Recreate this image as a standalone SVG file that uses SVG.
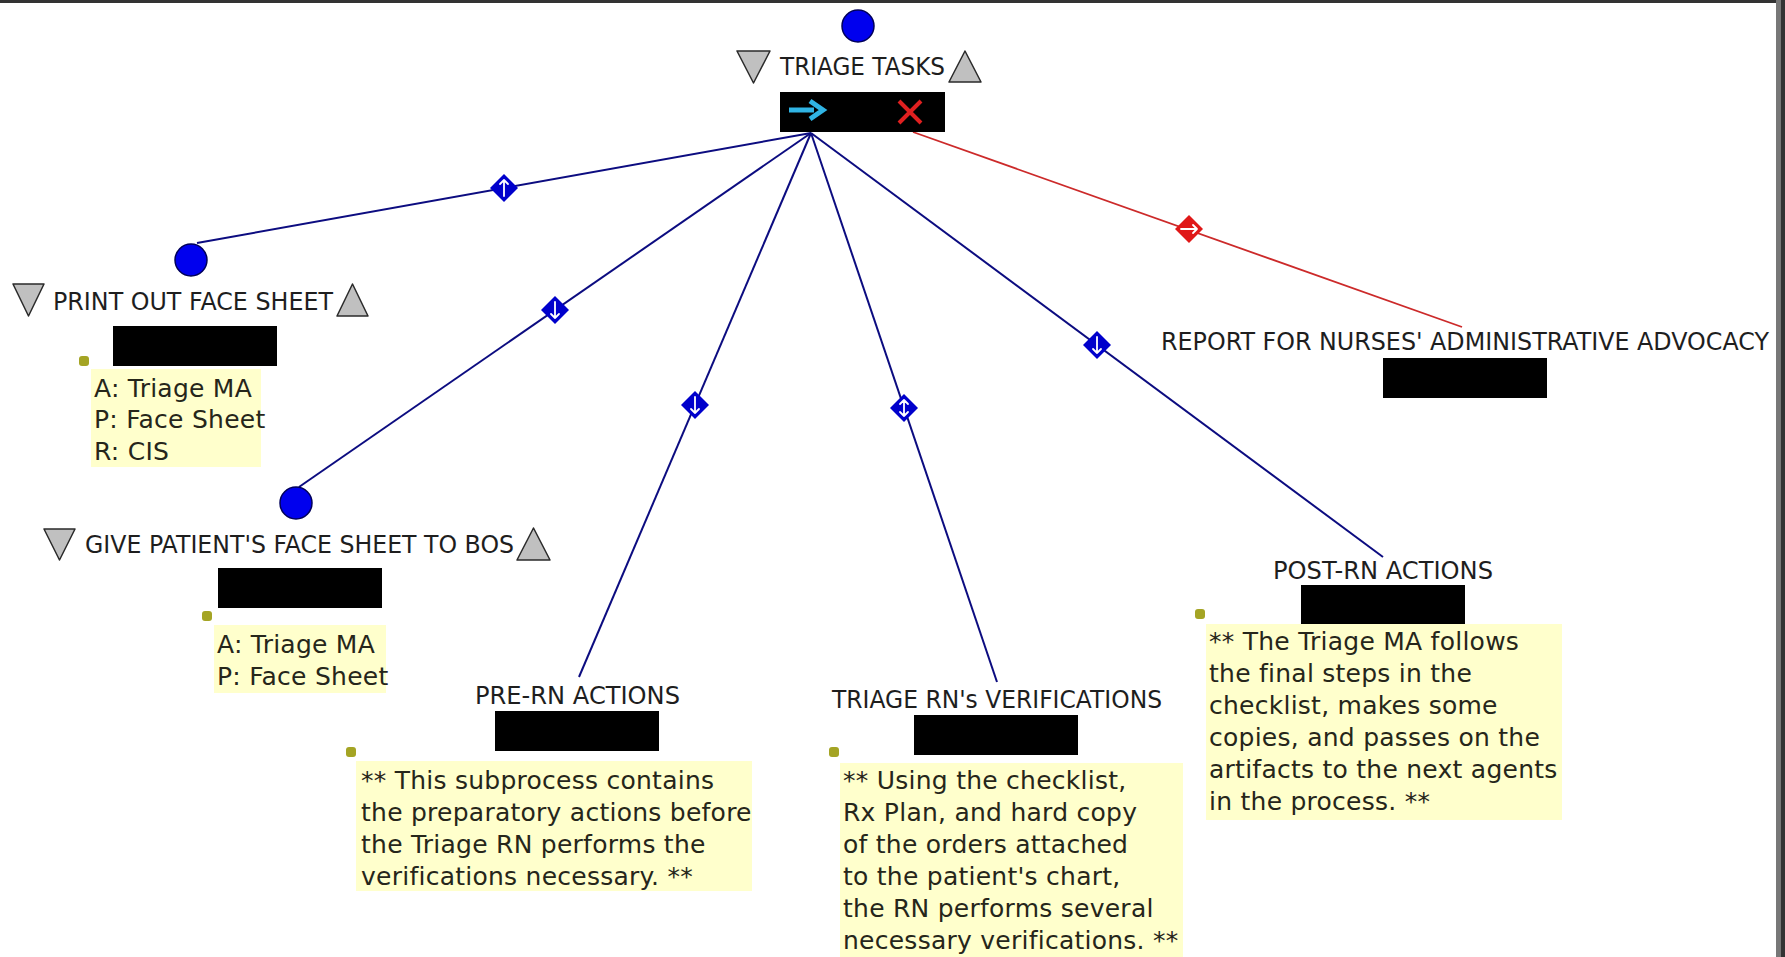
<svg xmlns="http://www.w3.org/2000/svg" width="1785" height="957" viewBox="0 0 1785 957">
  <style>
    .label { font-family: "DejaVu Sans", "Liberation Sans", sans-serif; font-size: 24px; fill: #1e1e1e; }
    .note { font-family: "DejaVu Sans", "Liberation Sans", sans-serif; font-size: 25px; fill: #26261a; letter-spacing: 0.25px; }
    .notebg { fill: #ffffcc; }
    .dot { fill: #a4a424; }
    .ball { fill: #0000ee; stroke: #00005a; stroke-width: 1.5; }
    .tri { fill: #c0c0c0; stroke: #2a2a2a; stroke-width: 1.5; stroke-linejoin: round; }
    .box { fill: #000000; }
    .link { fill: none; stroke: #0c0c80; stroke-width: 2; }
    .link-red { fill: none; stroke: #cc2a2a; stroke-width: 1.8; }
    .dia { fill: #0000cc; }
    .dia-red { fill: #e01818; }
    .glyph { fill: none; stroke: #ffffff; stroke-width: 1.8; stroke-linecap: round; stroke-linejoin: round; }
  </style>
  <defs>
    <!-- diamond decorations placed on the links -->
    <g id="dia-up">
      <path class="dia" d="M0,-14 L14,0 L0,14 L-14,0 Z"/>
      <path class="glyph" d="M0,8 V-8 M-4,-4 L0,-8 L4,-4"/>
    </g>
    <g id="dia-down">
      <path class="dia" d="M0,-14 L14,0 L0,14 L-14,0 Z"/>
      <path class="glyph" d="M0,-8 V8 M-4,4 L0,8 L4,4"/>
    </g>
    <g id="dia-both">
      <path class="dia" d="M0,-14 L14,0 L0,14 L-14,0 Z"/>
      <path class="glyph" d="M0,-8 V8 M-4,4 L0,8 L4,4 M-4,-4 L0,-8 L4,-4"/>
    </g>
    <g id="dia-right">
      <path class="dia-red" d="M0,-14 L14,0 L0,14 L-14,0 Z"/>
      <path class="glyph" d="M-8,0 H8 M4,-4 L8,0 L4,4"/>
    </g>
  </defs>

  <rect x="0" y="0" width="1785" height="957" fill="#ffffff"/>
  <!-- window frame -->
  <rect x="0" y="0" width="1785" height="3" fill="#333333"/>
  <rect x="1776" y="0" width="5" height="957" fill="#777777"/>
  <rect x="1781" y="0" width="4" height="957" fill="#333333"/>

  <g id="connectors">
    <line class="link" x1="811" y1="133" x2="197" y2="243"/>
    <line class="link" x1="811" y1="133" x2="299" y2="487"/>
    <line class="link" x1="811" y1="133" x2="579" y2="677"/>
    <line class="link" x1="811" y1="133" x2="997" y2="682"/>
    <line class="link" x1="811" y1="133" x2="1383" y2="557"/>
    <line class="link-red" x1="913" y1="132" x2="1462" y2="327"/>
    <use href="#dia-up" x="504" y="188"/>
    <use href="#dia-down" x="555" y="310"/>
    <use href="#dia-down" x="695" y="405"/>
    <use href="#dia-both" x="904" y="408"/>
    <use href="#dia-down" x="1097" y="345"/>
    <use href="#dia-right" x="1189" y="229"/>
  </g>

  <g id="triage-tasks">
    <circle class="ball" cx="858" cy="26" r="16"/>
    <path class="tri" d="M737,51 L770,51 L753.5,83 Z"/>
    <text class="label" x="780" y="75" textLength="165" lengthAdjust="spacingAndGlyphs">TRIAGE TASKS</text>
    <path class="tri" d="M949,82 L981,82 L965,51 Z"/>
    <rect class="box" x="780" y="92" width="165" height="40"/>
    <path d="M789,110 H814" stroke="#30b4e4" stroke-width="5" fill="none"/>
    <path d="M810,101 L823,110 L810,119" stroke="#30b4e4" stroke-width="5" fill="none" stroke-linejoin="miter"/>
    <path d="M899,101 L921,123 M921,101 L899,123" stroke="#e02020" stroke-width="4" fill="none"/>
  </g>

  <g id="print-face-sheet">
    <circle class="ball" cx="191" cy="260" r="16"/>
    <path class="tri" d="M13,284 L44,284 L28.5,316 Z"/>
    <text class="label" x="53" y="310" textLength="280" lengthAdjust="spacingAndGlyphs">PRINT OUT FACE SHEET</text>
    <path class="tri" d="M337,316 L368,316 L352.5,284 Z"/>
    <rect class="box" x="113" y="326" width="164" height="40"/>
    <rect class="dot" x="79" y="356" width="10" height="10" rx="3"/>
    <rect class="notebg" x="91" y="369" width="170" height="98"/>
    <text class="note" x="94" y="397">A: Triage MA</text>
    <text class="note" x="94" y="428">P: Face Sheet</text>
    <text class="note" x="94" y="460">R: CIS</text>
  </g>

  <g id="give-face-sheet">
    <circle class="ball" cx="296" cy="503" r="16"/>
    <path class="tri" d="M44,529 L75,529 L59.5,560 Z"/>
    <text class="label" x="85" y="553" textLength="429" lengthAdjust="spacingAndGlyphs">GIVE PATIENT'S FACE SHEET TO BOS</text>
    <path class="tri" d="M517,560 L550,560 L533.5,528 Z"/>
    <rect class="box" x="218" y="568" width="164" height="40"/>
    <rect class="dot" x="202" y="611" width="10" height="10" rx="3"/>
    <rect class="notebg" x="214" y="625" width="172" height="68"/>
    <text class="note" x="217" y="653">A: Triage MA</text>
    <text class="note" x="217" y="685">P: Face Sheet</text>
  </g>

  <g id="pre-rn-actions">
    <text class="label" x="475" y="704" textLength="205" lengthAdjust="spacingAndGlyphs">PRE-RN ACTIONS</text>
    <rect class="box" x="495" y="711" width="164" height="40"/>
    <rect class="dot" x="346" y="747" width="10" height="10" rx="3"/>
    <rect class="notebg" x="356" y="761" width="396" height="130"/>
    <text class="note" x="361" y="789">** This subprocess contains</text>
    <text class="note" x="361" y="821">the preparatory actions before</text>
    <text class="note" x="361" y="853">the Triage RN performs the</text>
    <text class="note" x="361" y="885">verifications necessary. **</text>
  </g>

  <g id="triage-rn-verifications">
    <text class="label" x="832" y="708" textLength="330" lengthAdjust="spacingAndGlyphs">TRIAGE RN's VERIFICATIONS</text>
    <rect class="box" x="914" y="715" width="164" height="40"/>
    <rect class="dot" x="829" y="747" width="10" height="10" rx="3"/>
    <rect class="notebg" x="840" y="763" width="343" height="194"/>
    <text class="note" x="843" y="789">** Using the checklist,</text>
    <text class="note" x="843" y="821">Rx Plan, and hard copy</text>
    <text class="note" x="843" y="853">of the orders attached</text>
    <text class="note" x="843" y="885">to the patient's chart,</text>
    <text class="note" x="843" y="917">the RN performs several</text>
    <text class="note" x="843" y="949">necessary verifications. **</text>
  </g>

  <g id="post-rn-actions">
    <text class="label" x="1273" y="579" textLength="220" lengthAdjust="spacingAndGlyphs">POST-RN ACTIONS</text>
    <rect class="box" x="1301" y="585" width="164" height="39"/>
    <rect class="dot" x="1195" y="609" width="10" height="10" rx="3"/>
    <rect class="notebg" x="1206" y="624" width="356" height="196"/>
    <text class="note" x="1209" y="650">** The Triage MA follows</text>
    <text class="note" x="1209" y="682">the final steps in the</text>
    <text class="note" x="1209" y="714">checklist, makes some</text>
    <text class="note" x="1209" y="746">copies, and passes on the</text>
    <text class="note" x="1209" y="778">artifacts to the next agents</text>
    <text class="note" x="1209" y="810">in the process. **</text>
  </g>

  <g id="report-advocacy">
    <text class="label" x="1161" y="350" textLength="608" lengthAdjust="spacingAndGlyphs">REPORT FOR NURSES' ADMINISTRATIVE ADVOCACY</text>
    <rect class="box" x="1383" y="358" width="164" height="40"/>
  </g>
</svg>
